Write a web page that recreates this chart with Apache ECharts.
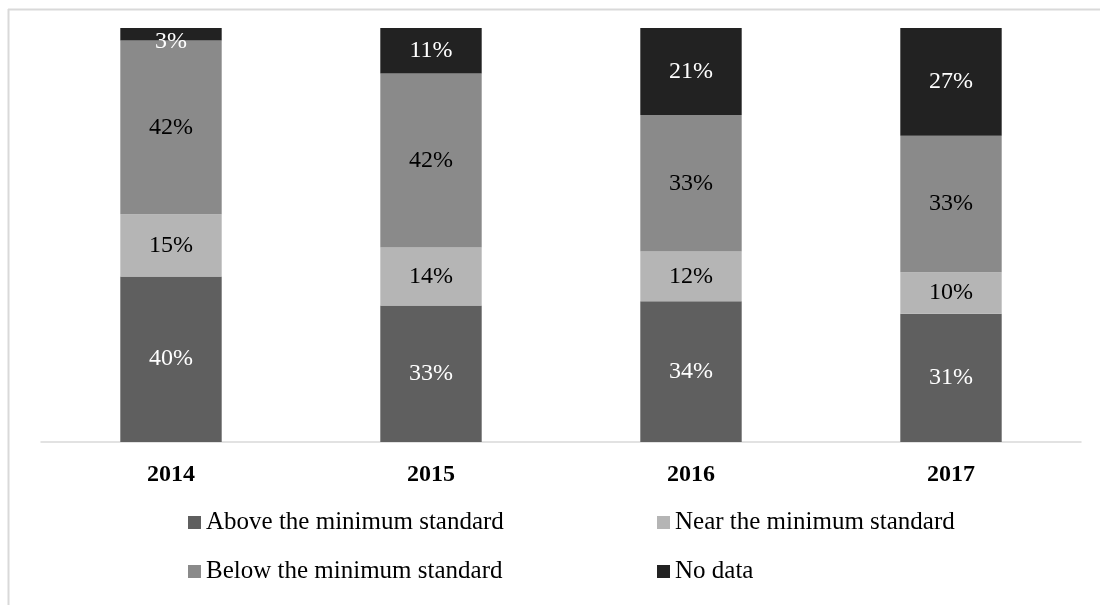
<!DOCTYPE html>
<html>
<head>
<meta charset="utf-8">
<title>Minimum standard by year</title>
<script src="https://cdn.jsdelivr.net/npm/echarts@6/dist/echarts.min.js"></script>
<style>
  html, body { margin: 0; padding: 0; background: #ffffff; }
  #chart { width: 1100px; height: 605px; }
</style>
</head>
<body>
<div id="chart"></div>
<script>
// Years on the category axis
const years = ['2014', '2015', '2016', '2017'];

// Share of each group per year (%)
const aboveStandard = [40, 33, 34, 31];
const nearStandard = [15, 14, 12, 10];
const belowStandard = [42, 42, 33, 33];
const noData = [3, 11, 21, 27];

const seriesNames = [
  'Above the minimum standard',
  'Near the minimum standard',
  'Below the minimum standard',
  'No data'
];

const FONT = '"Liberation Serif", "Times New Roman", serif';

function stackSeries(name, values, color, labelColor) {
  return {
    name: name,
    type: 'bar',
    stack: 'total',
    barWidth: '39%',
    data: values.map(function (v) {
      // very thin segments get their label nudged down so it stays readable
      return v < 5 ? { value: v, label: { offset: [0, 7] } } : v;
    }),
    itemStyle: { color: color },
    label: {
      show: true,
      position: 'inside',
      formatter: '{c}%',
      color: labelColor,
      fontFamily: FONT,
      fontSize: 24
    }
  };
}

const legendText = { color: '#000000', fontFamily: FONT, fontSize: 25, lineHeight: 25 };

const chart = echarts.init(document.getElementById('chart'), null, { renderer: 'canvas' });

chart.setOption({
  animation: false,
  backgroundColor: '#ffffff',
  textStyle: { fontFamily: FONT },
  grid: { left: 41, right: 19, top: 28, bottom: 163, containLabel: false },
  xAxis: {
    type: 'category',
    data: years,
    axisLine: { show: true, lineStyle: { color: '#d9d9d9', width: 1.5 } },
    axisTick: { show: false },
    axisLabel: {
      color: '#000000',
      fontFamily: FONT,
      fontWeight: 'bold',
      fontSize: 24,
      margin: 21
    }
  },
  yAxis: {
    type: 'value',
    min: 0,
    max: 100,
    show: false,
    splitLine: { show: false }
  },
  legend: [
    {
      orient: 'vertical',
      left: 188,
      top: 510,
      padding: 0,
      itemWidth: 13,
      itemHeight: 13,
      itemGap: 24,
      icon: 'rect',
      data: [seriesNames[0], seriesNames[2]],
      textStyle: legendText
    },
    {
      orient: 'vertical',
      left: 657,
      top: 510,
      padding: 0,
      itemWidth: 13,
      itemHeight: 13,
      itemGap: 24,
      icon: 'rect',
      data: [seriesNames[1], seriesNames[3]],
      textStyle: legendText
    }
  ],
  graphic: [
    {
      type: 'line',
      shape: { x1: 8, y1: 9.5, x2: 1100, y2: 9.5 },
      style: { stroke: '#d9d9d9', lineWidth: 2 },
      silent: true
    },
    {
      type: 'line',
      shape: { x1: 8.5, y1: 9, x2: 8.5, y2: 605 },
      style: { stroke: '#d9d9d9', lineWidth: 2 },
      silent: true
    }
  ],
  series: [
    stackSeries(seriesNames[0], aboveStandard, '#5f5f5f', '#ffffff'),
    stackSeries(seriesNames[1], nearStandard, '#b5b5b5', '#000000'),
    stackSeries(seriesNames[2], belowStandard, '#8a8a8a', '#000000'),
    stackSeries(seriesNames[3], noData, '#222222', '#ffffff')
  ]
});
</script>
</body>
</html>
